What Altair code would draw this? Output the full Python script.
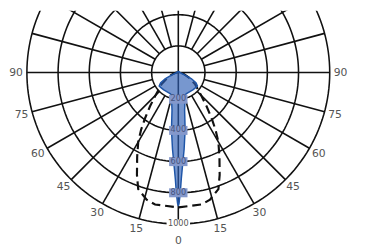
import altair as alt
import numpy as np
import pandas as pd

# ---------------- data ----------------
ring_values = [200, 400, 600, 800, 1000]
ring_labels = ["200", "400", "600", "800", "1000"]
angle_ticks = [0, 15, 30, 45, 60, 75, 90]
angle_labels = ["0", "15", "30", "45", "60", "75", "90"]

# solid (blue) distribution, symmetric: angle from nadir (deg) -> cd
beam_angles = [0, 0.3, 0.9, 1.6, 2.7, 4.3, 6.8, 9.5, 13.6, 16, 20, 30, 40, 50, 55, 60, 65, 70, 75, 80, 90, 120, 150, 180]
beam_values = [882, 869, 806, 712, 618, 524, 399, 274, 211, 182, 175, 172, 174, 177, 179, 160, 120, 76, 52, 43, 40, 37, 36, 36]

# dashed distribution, symmetric
dash_angles = [0, 10, 14, 19, 22, 26, 30, 33, 36, 40, 45, 55, 65, 75, 90, 120, 180]
dash_values = [894, 888, 869, 819, 737, 631, 543, 468, 393, 311, 236, 161, 104, 67, 42, 30, 29]

# ---------------- geometry ----------------
K = 0.1595      # px per cd
V0 = 29         # cd at the centre
W, H = 358, 240
CX, CY = 174.2, 63.3
xdom = [-CX / K, (W - CX) / K]
ydom = [-(H - CY) / K, CY / K]
xs = alt.Scale(domain=xdom, nice=False, zero=False)
ys = alt.Scale(domain=ydom, nice=False, zero=False)


def R(v):
    return max(v - V0, 0)


def pol(v, a):
    t = np.radians(a)
    return R(v) * np.sin(t), -R(v) * np.cos(t)


# circles
rows = []
for v in ring_values:
    for d in range(0, 361, 2):
        x, y = pol(v, d)
        rows.append({"ring": v, "ord": d, "x": x, "y": y})
circ = pd.DataFrame(rows)

# spokes
rows = []
for a in range(0, 360, 15):
    x1, y1 = pol(V0 if a % 90 == 0 else ring_values[0], a)
    x2, y2 = pol(ring_values[-1], a)
    rows.append({"x": x1, "y": y1, "x2": x2, "y2": y2})
spokes = pd.DataFrame(rows)


def closed_curve(angles, values):
    pts = []
    full = [(-a, v) for a, v in zip(angles[::-1], values[::-1])] + [(a, v) for a, v in zip(angles[1:], values[1:])]
    for i, (a, v) in enumerate(full):
        x, y = pol(v, a)
        pts.append({"ord": i, "x": x, "y": y})
    return pd.DataFrame(pts)


beam = closed_curve(beam_angles, beam_values)
dash = closed_curve(dash_angles, dash_values)

# angle labels
rows = []
for a, lab in zip(angle_ticks, angle_labels):
    rr = (172 if a == 0 else 166) / K
    for s in ([1] if a == 0 else [-1, 1]):
        t = np.radians(s * a)
        rows.append({"x": rr * np.sin(t), "y": -rr * np.cos(t), "lab": lab})
alabels = pd.DataFrame(rows)

# ring labels + boxes
rows = []
for v, lab in zip(ring_values, ring_labels):
    hw = (len(lab) * 2.6 + 1.6) / K
    hh = 4.6 / K
    y = -R(v)
    rows.append({"x": 0.0, "y": y, "xa": -hw, "xb": hw, "ya": y - hh, "yb": y + hh,
                 "lab": lab, "inner": "in" if v < 1000 else "out"})
rlabels = pd.DataFrame(rows)

X = lambda f="x": alt.X(f"{f}:Q", scale=xs, axis=None)
Y = lambda f="y": alt.Y(f"{f}:Q", scale=ys, axis=None)

circles = alt.Chart(circ).mark_line(color="#111111", strokeWidth=1.6, clip=True).encode(
    x=X(), y=Y(), detail="ring:N", order="ord:Q")

spk = alt.Chart(spokes).mark_rule(color="#111111", strokeWidth=1.6, clip=True).encode(
    x=X(), y=Y(), x2="x2:Q", y2="y2:Q")

dashed = alt.Chart(dash).mark_line(color="#111111", strokeWidth=2.2, strokeDash=[9, 5], clip=True).encode(
    x=X(), y=Y(), order="ord:Q")

beam_layer = alt.Chart(beam).mark_line(
    fill="#2e5fb5", fillOpacity=0.65, stroke="#1f56a8", strokeWidth=1.5, strokeJoin="round", clip=True
).encode(x=X(), y=Y(), order="ord:Q")

boxes = alt.Chart(rlabels).mark_rect().encode(
    x=X("xa"), x2="xb:Q", y=Y("ya"), y2="yb:Q",
    color=alt.Color("inner:N", scale=alt.Scale(domain=["in", "out"], range=["#8498cb", "#ffffff"]), legend=None))

rtext = alt.Chart(rlabels).mark_text(font="DejaVu Sans", fontSize=8.3, align="center", baseline="middle").encode(
    x=X(), y=Y(), text="lab:N",
    color=alt.Color("inner:N", scale=alt.Scale(domain=["in", "out"], range=["#46557f", "#555555"]), legend=None))

atext = alt.Chart(alabels).mark_text(font="DejaVu Sans", fontSize=11, color="#555555",
                                     align="center", baseline="middle").encode(
    x=X(), y=Y(), text="lab:N")

chart = alt.layer(circles, spk, dashed, beam_layer, boxes, rtext, atext).resolve_scale(color="independent").properties(
    width=W, height=H, autosize=alt.AutoSizeParams(type="none"), padding=0
).configure_view(stroke=None)

chart.save("out.html", embed_options={"renderer": "svg", "actions": False})
